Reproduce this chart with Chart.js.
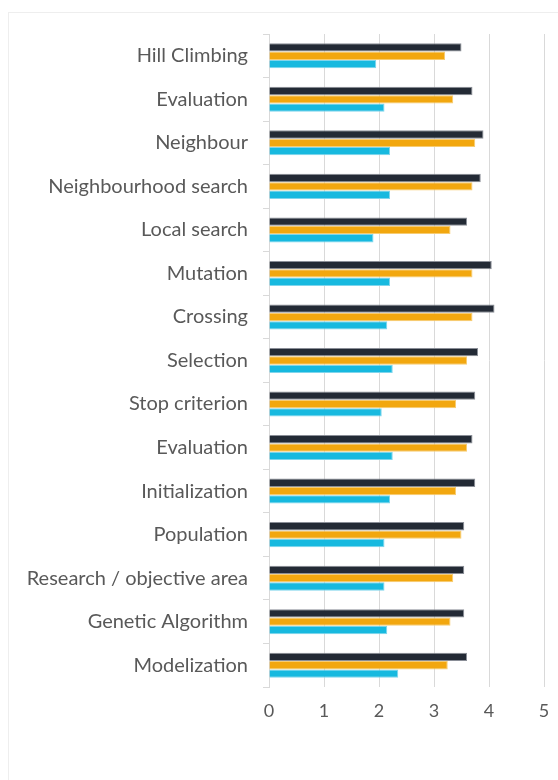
<!DOCTYPE html>
<html>
<head>
<meta charset="utf-8">
<script src="https://cdn.jsdelivr.net/npm/chart.js@4"></script>
<style>
  html, body { margin: 0; padding: 0; background: #ffffff; }
  #wrap { position: relative; width: 558px; height: 780px; overflow: hidden; }
  #frame { position: absolute; left: 8px; top: 12px; width: 700px; height: 900px; border: 1px solid #eeeeee; box-sizing: border-box; }
  canvas { position: absolute; left: 0; top: 0; }
</style>
</head>
<body>
<div id="wrap">
  <div id="frame"></div>
  <canvas id="c" width="558" height="780"></canvas>
</div>
<script>
const categories = [
  "Hill Climbing", "Evaluation", "Neighbour", "Neighbourhood search", "Local search",
  "Mutation", "Crossing", "Selection", "Stop criterion", "Evaluation",
  "Initialization", "Population", "Research / objective area", "Genetic Algorithm", "Modelization"
];
const seriesDark   = [3.50, 3.70, 3.90, 3.85, 3.60, 4.05, 4.10, 3.80, 3.75, 3.70, 3.75, 3.55, 3.55, 3.55, 3.60];
const seriesOrange = [3.20, 3.35, 3.75, 3.70, 3.30, 3.70, 3.70, 3.60, 3.40, 3.60, 3.40, 3.50, 3.35, 3.30, 3.25];
const seriesCyan   = [1.95, 2.10, 2.20, 2.20, 1.90, 2.20, 2.15, 2.25, 2.05, 2.25, 2.20, 2.10, 2.10, 2.15, 2.35];
const xTicks = [0, 1, 2, 3, 4, 5];

const labelFont = "Lato, 'Noto Sans', sans-serif";
const textColor = "#595959";
const gridColor = "#d9d9d9";

new Chart(document.getElementById("c"), {
  type: "bar",
  data: {
    labels: categories,
    datasets: [
      { data: seriesDark,   backgroundColor: "#232a35", borderColor: "#8a8e97", borderWidth: 1 },
      { data: seriesOrange, backgroundColor: "#f2a70f", borderColor: "#f7cc72", borderWidth: 1 },
      { data: seriesCyan,   backgroundColor: "#17b9df", borderColor: "#7fd5ec", borderWidth: 1 }
    ]
  },
  options: {
    indexAxis: "y",
    responsive: false,
    animation: false,
    devicePixelRatio: 1,
    layout: { padding: { top: 34, right: 14, left: 0, bottom: 0 } },
    datasets: { bar: { barPercentage: 1.0, categoryPercentage: 0.575 } },
    plugins: { legend: { display: false }, tooltip: { enabled: false }, title: { display: false } },
    scales: {
      x: {
        min: xTicks[0],
        max: xTicks[xTicks.length - 1],
        afterBuildTicks: (s) => { s.ticks = xTicks.map(v => ({ value: v })); },
        afterFit: (s) => { s.height = 93; s.paddingLeft = 0; s.paddingRight = 0; },
        grid: { color: gridColor, lineWidth: 1, drawTicks: false },
        border: { display: false },
        ticks: { color: textColor, padding: 13, font: { family: labelFont, size: 18 } }
      },
      y: {
        afterFit: (s) => { s.width = 269; s.paddingTop = 0; s.paddingBottom = 0; },
        grid: { display: true, drawOnChartArea: false, drawTicks: true, tickLength: 6, color: gridColor, offset: true },
        border: { display: true, color: gridColor, width: 1 },
        ticks: { color: textColor, padding: 15, font: { family: labelFont, size: 20 }, autoSkip: false }
      }
    }
  }
});
</script>
</body>
</html>
